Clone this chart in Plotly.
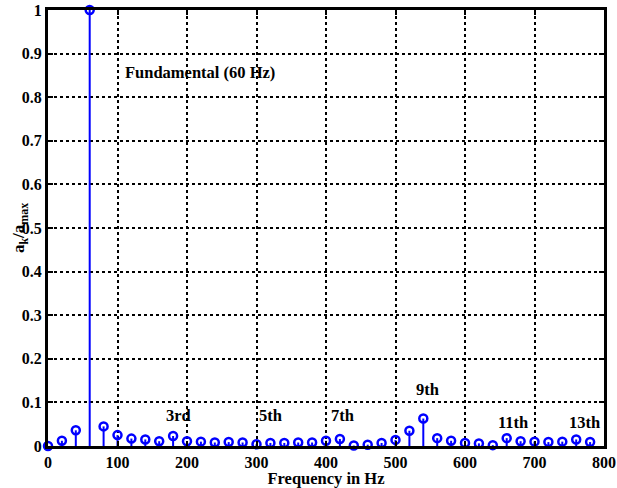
import plotly.graph_objects as go

freqs = list(range(0, 800, 20))
amps = [0.0, 0.012, 0.036, 1.0, 0.045, 0.025, 0.017, 0.015, 0.011, 0.023,
        0.011, 0.010, 0.008, 0.009, 0.008, 0.004, 0.007, 0.007, 0.008, 0.008,
        0.012, 0.016, 0.001, 0.003, 0.007, 0.014, 0.035, 0.063, 0.018, 0.012,
        0.007, 0.006, 0.002, 0.018, 0.011, 0.010, 0.009, 0.010, 0.015, 0.009]

labels = ["Fundamental (60 Hz)", "3rd", "5th", "7th", "9th", "11th", "13th"]
label_x = [108, 167, 301, 405, 526, 644, 747]
label_y = [0.857, 0.07, 0.07, 0.07, 0.13, 0.055, 0.055]

xticks = list(range(0, 801, 100))
yticks = [round(i * 0.1, 1) for i in range(11)]
ytick_text = ["0", "0.1", "0.2", "0.3", "0.4", "0.5", "0.6", "0.7", "0.8", "0.9", "1"]

FONT = "Liberation Serif, Times New Roman, serif"
BLUE = "#0000ff"

sx, sy = [], []
for f, a in zip(freqs, amps):
    sx += [f, f, None]
    sy += [0, a, None]

fig = go.Figure()
fig.add_trace(go.Scatter(x=sx, y=sy, mode="lines",
                         line=dict(color=BLUE, width=2), hoverinfo="skip",
                         showlegend=False, cliponaxis=False))
fig.add_trace(go.Scatter(x=freqs, y=amps, mode="markers",
                         marker=dict(symbol="circle-open", size=8, color=BLUE,
                                     line=dict(width=2.5, color=BLUE)),
                         showlegend=False, cliponaxis=False))

for t, x, y in zip(labels, label_x, label_y):
    fig.add_annotation(x=x, y=y, text="<b>" + t + "</b>", showarrow=False,
                       xanchor="left", yanchor="middle",
                       font=dict(family=FONT, size=16.5, color="black"))

# y-axis title as a rotated annotation
fig.add_annotation(xref="paper", yref="paper", x=-28 / 556, y=0.5,
                   text="<b>a<sub>k</sub>/a<sub>max</sub></b>", showarrow=False,
                   textangle=-90, xanchor="center", yanchor="middle",
                   font=dict(family=FONT, size=17, color="black"))

axis_common = dict(showline=True, linecolor="black", linewidth=3, mirror="ticks",
                   ticks="inside", ticklen=5, tickwidth=2, tickcolor="black",
                   showgrid=True, gridcolor="black", griddash="dot", gridwidth=1.5,
                   zeroline=False, automargin=False,
                   tickfont=dict(family=FONT, size=16, color="black", weight="bold"))

fig.update_xaxes(range=[0, 800], tickvals=xticks, ticklabelstandoff=0,
                 title=dict(text="<b>Frequency in Hz</b>", standoff=1,
                            font=dict(family=FONT, size=16.5, color="black")),
                 **axis_common)
fig.update_yaxes(range=[0, 1], tickvals=yticks, ticktext=ytick_text,
                 ticklabelstandoff=0, **axis_common)

fig.update_layout(width=617, height=488,
                  margin=dict(l=48, r=13, t=10, b=42),
                  plot_bgcolor="white", paper_bgcolor="white")

fig.write_html("out.html", config={"displayModeBar": False},
               post_script="document.body.style.margin='0';document.body.style.overflow='hidden';")
